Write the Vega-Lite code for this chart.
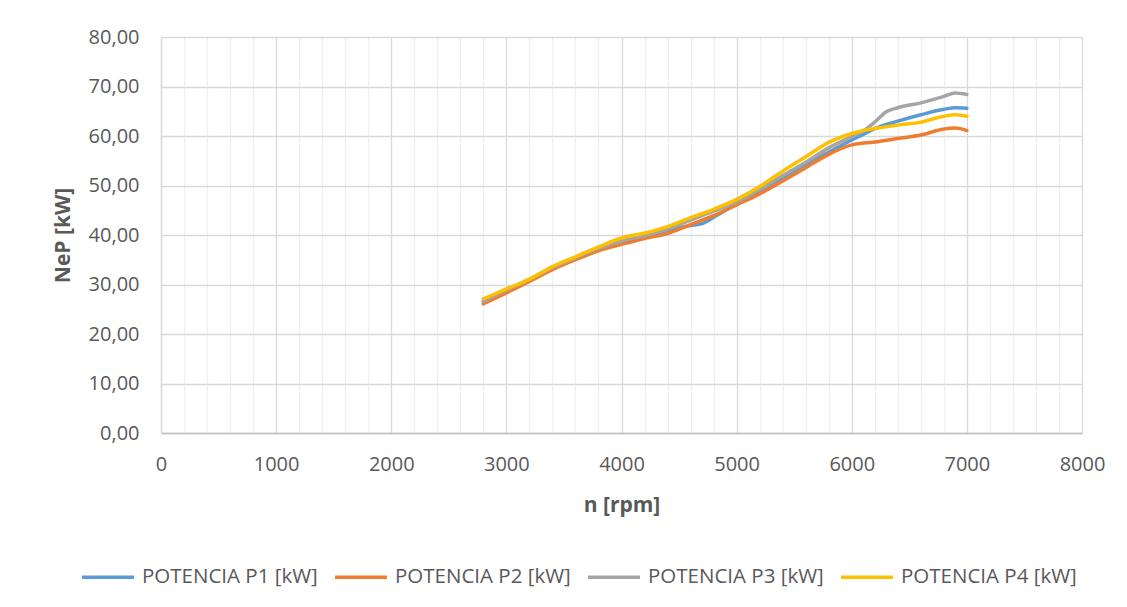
{
  "$schema": "https://vega.github.io/schema/vega-lite/v6.json",
  "autosize": "none",
  "width": 921,
  "height": 396,
  "padding": {"left": 161, "top": 37, "right": 45, "bottom": 174},
  "background": "#ffffff",
  "config": {
    "locale": {"number": {"decimal": ",", "thousands": ".", "grouping": [3], "currency": ["", " €"]}},
    "font": "Open Sans",
    "view": {"stroke": null}
  },
  "datasets": {
    "p1": [
      {"n": 2800, "v": 26.5}, {"n": 3000, "v": 28.7}, {"n": 3200, "v": 30.9}, {"n": 3400, "v": 33.3},
      {"n": 3600, "v": 35.3}, {"n": 3800, "v": 37.2}, {"n": 4000, "v": 38.5}, {"n": 4200, "v": 39.7},
      {"n": 4400, "v": 40.9}, {"n": 4600, "v": 41.9}, {"n": 4700, "v": 42.3}, {"n": 4800, "v": 43.6},
      {"n": 5000, "v": 46.3}, {"n": 5200, "v": 48.8}, {"n": 5400, "v": 51.6}, {"n": 5600, "v": 54.3},
      {"n": 5800, "v": 56.7}, {"n": 6000, "v": 59.2}, {"n": 6100, "v": 60.3}, {"n": 6200, "v": 61.5},
      {"n": 6400, "v": 63.0}, {"n": 6600, "v": 64.3}, {"n": 6800, "v": 65.4}, {"n": 6900, "v": 65.7},
      {"n": 7000, "v": 65.6}
    ],
    "p2": [
      {"n": 2800, "v": 26.1}, {"n": 3000, "v": 28.3}, {"n": 3200, "v": 30.6}, {"n": 3400, "v": 33.0},
      {"n": 3600, "v": 35.0}, {"n": 3800, "v": 36.8}, {"n": 4000, "v": 38.1}, {"n": 4200, "v": 39.3},
      {"n": 4400, "v": 40.3}, {"n": 4600, "v": 42.1}, {"n": 4700, "v": 43.0}, {"n": 4800, "v": 43.9},
      {"n": 5000, "v": 46.1}, {"n": 5200, "v": 48.3}, {"n": 5400, "v": 50.9}, {"n": 5600, "v": 53.6},
      {"n": 5800, "v": 56.3}, {"n": 6000, "v": 58.2}, {"n": 6200, "v": 58.8}, {"n": 6400, "v": 59.5},
      {"n": 6600, "v": 60.2}, {"n": 6800, "v": 61.4}, {"n": 6900, "v": 61.6}, {"n": 7000, "v": 61.1}
    ],
    "p3": [
      {"n": 2800, "v": 26.6}, {"n": 3000, "v": 28.9}, {"n": 3200, "v": 31.0}, {"n": 3400, "v": 33.4},
      {"n": 3600, "v": 35.4}, {"n": 3800, "v": 37.3}, {"n": 4000, "v": 38.8}, {"n": 4200, "v": 39.9},
      {"n": 4400, "v": 41.2}, {"n": 4600, "v": 43.0}, {"n": 4800, "v": 44.8}, {"n": 5000, "v": 46.7},
      {"n": 5200, "v": 49.2}, {"n": 5400, "v": 52.0}, {"n": 5600, "v": 54.7}, {"n": 5800, "v": 57.6},
      {"n": 6000, "v": 59.9}, {"n": 6100, "v": 61.0}, {"n": 6200, "v": 62.8}, {"n": 6300, "v": 64.9},
      {"n": 6400, "v": 65.7}, {"n": 6600, "v": 66.7}, {"n": 6800, "v": 68.0}, {"n": 6900, "v": 68.7},
      {"n": 7000, "v": 68.4}
    ],
    "p4": [
      {"n": 2800, "v": 27.1}, {"n": 3000, "v": 29.1}, {"n": 3200, "v": 31.1}, {"n": 3400, "v": 33.6},
      {"n": 3600, "v": 35.6}, {"n": 3800, "v": 37.6}, {"n": 4000, "v": 39.4}, {"n": 4200, "v": 40.4},
      {"n": 4400, "v": 41.7}, {"n": 4600, "v": 43.5}, {"n": 4800, "v": 45.2}, {"n": 5000, "v": 47.2},
      {"n": 5200, "v": 49.8}, {"n": 5400, "v": 52.9}, {"n": 5600, "v": 55.8}, {"n": 5800, "v": 58.7},
      {"n": 6000, "v": 60.5}, {"n": 6100, "v": 61.1}, {"n": 6200, "v": 61.5}, {"n": 6400, "v": 62.2},
      {"n": 6600, "v": 62.8}, {"n": 6800, "v": 64.0}, {"n": 6900, "v": 64.3}, {"n": 7000, "v": 64.0}
    ]
  },
  "encoding": {
    "x": {
      "field": "n", "type": "quantitative",
      "scale": {"domain": [0, 8000], "nice": false},
      "axis": {
        "values": [0,200,400,600,800,1000,1200,1400,1600,1800,2000,2200,2400,2600,2800,3000,3200,3400,3600,3800,4000,4200,4400,4600,4800,5000,5200,5400,5600,5800,6000,6200,6400,6600,6800,7000,7200,7400,7600,7800,8000],
        "format": "d",
        "labelExpr": "datum.value % 1000 === 0 ? datum.label : ''",
        "title": "n [rpm]",
        "titleFont": "Open Sans", "titleFontSize": 21, "titleFontWeight": "bold", "titleColor": "#595959",
        "titlePadding": 20,
        "labelFont": "Open Sans", "labelFontSize": 20, "labelColor": "#595959", "labelPadding": 21,
        "labelOverlap": false,
        "labelFlush": false,
        "ticks": false,
        "domainColor": "#bfbfbf", "domainWidth": 1.5,
        "grid": true,
        "gridColor": {"condition": {"test": "datum.value % 1000 === 0", "value": "#d9d9d9"}, "value": "#efefef"},
        "gridWidth": 1.3
      }
    },
    "y": {
      "field": "v", "type": "quantitative",
      "scale": {"domain": [0, 80], "nice": false},
      "axis": {
        "values": [0,10,20,30,40,50,60,70,80],
        "format": ".2f",
        "title": "NeP [kW]",
        "titleFont": "Open Sans", "titleFontSize": 21, "titleFontWeight": "bold", "titleColor": "#595959",
        "titlePadding": 15,
        "labelFont": "Open Sans", "labelFontSize": 20, "labelColor": "#595959", "labelPadding": 22,
        "ticks": false,
        "domainColor": "#d9d9d9", "domainWidth": 1.3,
        "grid": true, "gridColor": "#d9d9d9", "gridWidth": 1.3
      }
    },
    "color": {
      "field": "serie", "type": "nominal",
      "scale": {
        "domain": ["POTENCIA P1 [kW]", "POTENCIA P2 [kW]", "POTENCIA P3 [kW]", "POTENCIA P4 [kW]"],
        "range": ["#5b9bd5", "#ed7d31", "#a5a5a5", "#ffc000"]
      },
      "legend": {
        "title": null,
        "orient": "none",
        "direction": "horizontal",
        "columns": 4,
        "legendX": -81,
        "legendY": 512,
        "symbolType": "stroke",
        "symbolSize": 2700,
        "symbolStrokeWidth": 3.5,
        "labelFont": "Open Sans",
        "labelFontSize": 20.5,
        "labelColor": "#595959",
        "labelOffset": 6,
        "columnPadding": 10,
        "labelLimit": 400
      }
    }
  },
  "layer": [
    {
      "data": {"name": "p1"},
      "transform": [{"calculate": "'POTENCIA P1 [kW]'", "as": "serie"}],
      "mark": {"type": "line", "interpolate": "monotone", "strokeWidth": 3.5, "strokeCap": "round"}
    },
    {
      "data": {"name": "p2"},
      "transform": [{"calculate": "'POTENCIA P2 [kW]'", "as": "serie"}],
      "mark": {"type": "line", "interpolate": "monotone", "strokeWidth": 3.5, "strokeCap": "round"}
    },
    {
      "data": {"name": "p3"},
      "transform": [{"calculate": "'POTENCIA P3 [kW]'", "as": "serie"}],
      "mark": {"type": "line", "interpolate": "monotone", "strokeWidth": 3.5, "strokeCap": "round"}
    },
    {
      "data": {"name": "p4"},
      "transform": [{"calculate": "'POTENCIA P4 [kW]'", "as": "serie"}],
      "mark": {"type": "line", "interpolate": "monotone", "strokeWidth": 3.5, "strokeCap": "round"}
    }
  ]
}
